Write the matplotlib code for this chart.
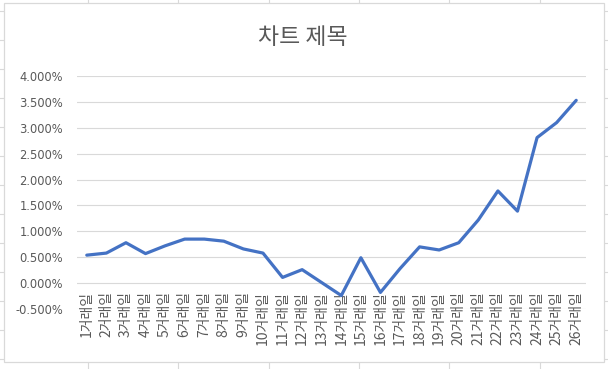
import matplotlib.pyplot as plt
from matplotlib.lines import Line2D
from matplotlib.patches import Rectangle
from matplotlib.ticker import FuncFormatter

plt.rcParams['font.family'] = ['Noto Sans CJK KR', 'DejaVu Sans']

# data (percent)
days = [f"{i}거래일" for i in range(1, 27)]
returns = [0.54, 0.58, 0.78, 0.57, 0.72, 0.85, 0.85, 0.81, 0.66, 0.58,
           0.11, 0.26, 0.01, -0.24, 0.49, -0.18, 0.28, 0.70, 0.64, 0.78,
           1.22, 1.78, 1.39, 2.81, 3.10, 3.53]
y_ticks = [-0.5, 0.0, 0.5, 1.0, 1.5, 2.0, 2.5, 3.0, 3.5, 4.0]

W, H = 608, 369
fig = plt.figure(figsize=(W / 100, H / 100), dpi=100)

grid_c = "#D9D9D9"
text_c = "#595959"

# spreadsheet cell lines peeking around the chart
for x in [88, 178, 269, 359, 449, 540]:
    fig.add_artist(Line2D([x / W, x / W], [1 - 3 / H, 1], color=grid_c, lw=0.8, zorder=-20))
    fig.add_artist(Line2D([x / W, x / W], [0, 1 - 362 / H], color=grid_c, lw=0.8, zorder=-20))
for k in range(13):
    y = 11 + 29 * k
    fig.add_artist(Line2D([0, 4 / W], [1 - y / H, 1 - y / H], color=grid_c, lw=0.8, zorder=-20))
    fig.add_artist(Line2D([604 / W, 1], [1 - y / H, 1 - y / H], color=grid_c, lw=0.8, zorder=-20))

# chart border
fig.add_artist(Rectangle((4 / W, 1 - 362 / H), 600 / W, 359 / H, zorder=-10,
                         fill=True, facecolor="white", edgecolor=grid_c, lw=0.9))

ax = fig.add_axes([77 / W, 1 - 309 / H, 509 / W, 233 / H])
ax.set_facecolor("none")

x = list(range(len(days)))
ax.plot(x, returns, color="#4472C4", lw=2.3, solid_joinstyle="round",
        solid_capstyle="round")

ax.set_xlim(-0.5, len(days) - 0.5)
ax.set_ylim(-0.5, 4.0)
ax.set_yticks(y_ticks)
ax.yaxis.set_major_formatter(FuncFormatter(lambda v, p: f"{v:.3f}%"))
ax.set_xticks(x)
ax.set_xticklabels(days, rotation=90, va="top", ha="center")

ax.grid(axis="y", color=grid_c, lw=0.8)
ax.set_axisbelow(True)
for s in ax.spines.values():
    s.set_visible(False)
ax.tick_params(axis="y", length=0, pad=10, labelcolor=text_c)
ax.tick_params(axis="x", length=0, pad=-13, labelsize=10, labelcolor=text_c)
for lbl in ax.get_yticklabels():
    lbl.set_family("DejaVu Sans")
    lbl.set_fontsize(8.3)

fig.text(303 / W, 1 - 37 / H, "차트 제목", ha="center", va="center",
         fontsize=16.5, color=text_c)

fig.savefig("out.png", dpi=100)
